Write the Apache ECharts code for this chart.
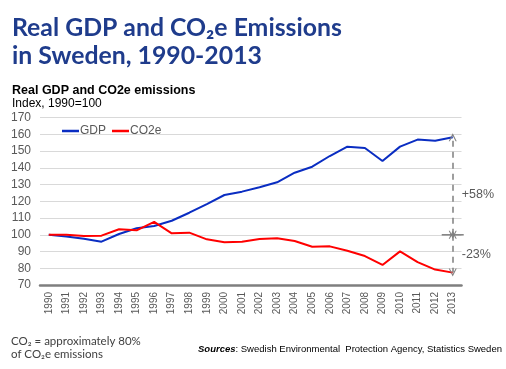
<!DOCTYPE html>
<html><head><meta charset="utf-8">
<script src="https://cdn.jsdelivr.net/npm/echarts@6/dist/echarts.min.js"></script>
<style>html,body{margin:0;padding:0;background:#fff}#c{width:506px;height:369px}</style>
</head><body><div id="c"></div>
<script>
const years = ['1990','1991','1992','1993','1994','1995','1996','1997','1998','1999','2000','2001','2002','2003','2004','2005','2006','2007','2008','2009','2010','2011','2012','2013'];
const gdp  = [100, 99.0, 97.7, 95.9, 100.5, 103.9, 105.3, 108.4, 113.2, 118.4, 123.8, 125.8, 128.4, 131.4, 137.1, 140.7, 147.1, 152.7, 151.9, 144.1, 152.7, 156.9, 156.2, 158.3];
const co2e = [100, 100.0, 99.3, 99.5, 103.3, 102.7, 107.7, 100.9, 101.3, 97.3, 95.5, 95.9, 97.5, 97.9, 96.3, 92.9, 93.1, 90.5, 87.3, 82.0, 90.1, 83.7, 79.2, 77.4];
const yTicks = {min: 70, max: 170, interval: 10};
const changeLabels = ['+58%', '-23%'];
const changeLabelAt = [124, 88.5];

const chart = echarts.init(document.getElementById('c'), null, {renderer: 'canvas'});
const gray = '#595959';
const arrowPath = 'path://M0,10 L5,0 L10,10 L8.6,10 L5,3 L1.4,10 Z';
const last = years.length - 1;
const dashStyle = {color: '#7f7f7f', type: [6, 5], width: 1.5};

chart.setOption({
  animation: false,
  title: [
    {text: 'Real GDP and CO₂e Emissions\nin Sweden, 1990-2013', left: 12, top: 14, padding: 0,
     textStyle: {fontFamily: 'Lato', fontWeight: 'bold', fontSize: 24.8, lineHeight: 28.3, color: '#1f3c8c'}},
    {text: 'Real GDP and CO2e emissions', left: 12, top: 84, padding: 0,
     textStyle: {fontFamily: 'Liberation Sans', fontWeight: 'bold', fontSize: 12.5, color: '#000'}},
    {text: 'Index, 1990=100', left: 12, top: 98, padding: 0,
     textStyle: {fontFamily: 'Liberation Sans', fontWeight: 'normal', fontSize: 12, color: '#000'}},
    {text: 'CO₂ = approximately 80%\nof CO₂e emissions', left: 11, top: 335.5, padding: 0,
     textStyle: {fontFamily: 'Lato', fontWeight: 'normal', fontSize: 11.5, lineHeight: 12.5, color: '#404040'}},
    {text: '{b|Sources}: Swedish Environmental  Protection Agency, Statistics Sweden', left: 198, top: 344, padding: 0,
     textStyle: {fontFamily: 'Liberation Sans', fontWeight: 'normal', fontSize: 9.5, color: '#000',
       rich: {b: {fontFamily: 'Liberation Sans', fontWeight: 'bold', fontStyle: 'italic', fontSize: 9.5, color: '#000'}}}}
  ],
  legend: {
    left: 57, top: 120, itemWidth: 17, itemHeight: 2.5, itemGap: 6, icon: 'rect',
    textStyle: {fontFamily: 'Liberation Sans', fontSize: 12, color: gray, padding: [0, 0, 0, -4]},
    data: ['GDP', 'CO2e']
  },
  grid: {left: 40, right: 44.5, top: 117.7, bottom: 84, containLabel: false},
  xAxis: {
    type: 'category', data: years, boundaryGap: true,
    axisLine: {lineStyle: {color: '#7f7f7f', width: 2.5}},
    axisTick: {show: false},
    axisLabel: {rotate: 90, fontFamily: 'Liberation Sans', fontSize: 10, color: gray, margin: 7, interval: 0}
  },
  yAxis: {
    type: 'value', min: yTicks.min, max: yTicks.max, interval: yTicks.interval,
    axisLine: {show: false}, axisTick: {show: false},
    axisLabel: {fontFamily: 'Liberation Sans', fontSize: 12, color: gray, margin: 9},
    splitLine: {lineStyle: {color: '#d9d9d9', width: 1}}
  },
  series: [
    {name: 'GDP', type: 'line', data: gdp, symbol: 'none', color: '#0a2dc2',
     lineStyle: {width: 2, color: '#0a2dc2'},
     markLine: {silent: true, symbol: [arrowPath, arrowPath], symbolSize: [8, 8], lineStyle: dashStyle,
       label: {show: false},
       data: [[{coord: [years[last], 100]}, {coord: [years[last], gdp[last]]}]]},
     markPoint: {symbol: 'circle', symbolSize: 0, silent: true,
       label: {show: true, position: 'right', distance: 9, formatter: changeLabels[0], fontFamily: 'Liberation Sans', fontSize: 12.5, color: gray},
       data: [{coord: [years[last], changeLabelAt[0]]}]}
    },
    {name: 'CO2e', type: 'line', data: co2e, symbol: 'none', color: '#ff0000',
     lineStyle: {width: 2, color: '#ff0000'},
     markLine: {silent: true, symbol: [arrowPath, arrowPath], symbolSize: [8, 8], lineStyle: dashStyle,
       label: {show: false},
       data: [[{coord: [years[last], 100]}, {coord: [years[last], co2e[last]]}]]},
     markPoint: {symbol: 'circle', symbolSize: 0, silent: true,
       label: {show: true, position: 'right', distance: 9, formatter: changeLabels[1], fontFamily: 'Liberation Sans', fontSize: 12.5, color: gray},
       data: [{coord: [years[last], changeLabelAt[1]]}]}
    }
  ]
});

const p = chart.convertToPixel({xAxisIndex: 0, yAxisIndex: 0}, [last, 100]);
chart.setOption({graphic: [{type: 'line', silent: true,
  shape: {x1: p[0] - 11, y1: p[1], x2: p[0] + 11, y2: p[1]},
  style: {stroke: '#7f7f7f', lineWidth: 1.5}}]});
</script></body></html>
